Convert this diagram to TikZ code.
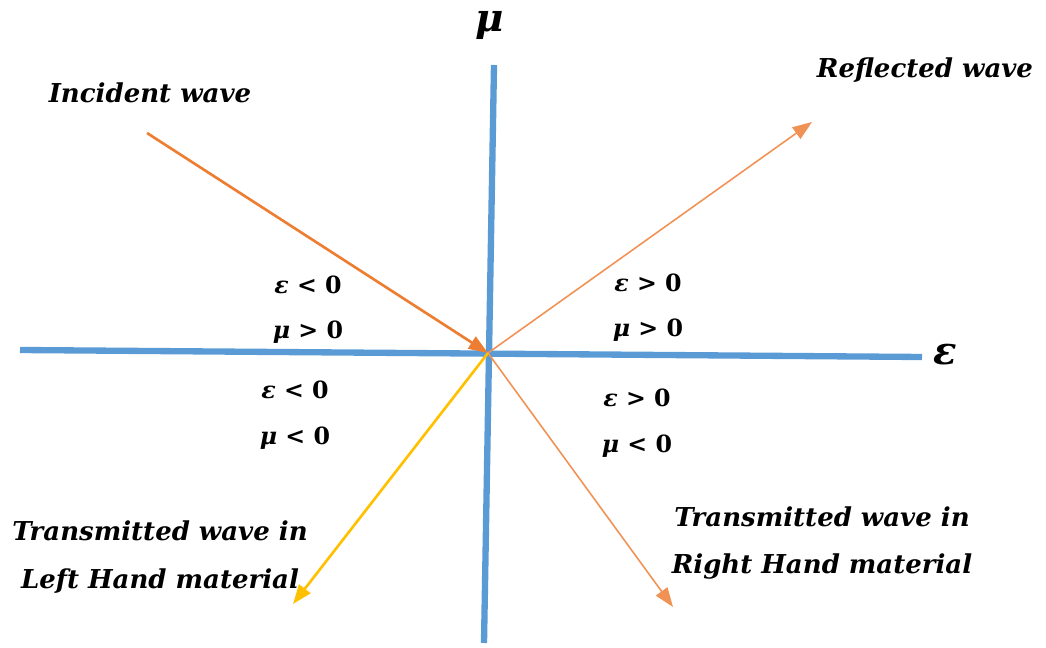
\documentclass[tikz,border=0pt]{standalone}
\usepackage{fontspec}
\setmainfont{DejaVu Serif}
\usepackage{tikz}
\usetikzlibrary{arrows.meta}
\definecolor{axisblue}{HTML}{5B9BD5}
\definecolor{waveorange}{HTML}{ED7D31}
\definecolor{wavelight}{HTML}{F19255}
\definecolor{wavegold}{HTML}{FFC000}

\begin{document}
\begin{tikzpicture}[
  x=0.02cm, y=-0.02cm,
  >={Triangle[length=11pt,width=8pt]},
  axis/.style={line width=3.6pt, axisblue},
  wave/.style={->, line width=1.5pt, waveorange},
  thinwave/.style={->, line width=0.9pt, wavelight},
  lbl/.style={font=\fontsize{14.8}{27}\selectfont\bfseries\itshape},
  sgn/.style={font=\fontsize{13.5}{15}\selectfont\bfseries},
  axlbl/.style={font=\fontsize{22}{24}\selectfont\bfseries\itshape}
]
\useasboundingbox (0,0) rectangle (1046,648);

%========== axes ==========
\coordinate (O) at (488,353);
\coordinate (eL) at (20,350);
\coordinate (eR) at (922,357);
\coordinate (mT) at (494,65);
\coordinate (mB) at (484,643);
\draw[axis] (eL) -- (eR);
\draw[axis] (mT) -- (mB);
\node[axlbl] (eps) at (945,355) {ε};
\node[axlbl] (mu) at (490,25) {μ};

%========== waves ==========
\coordinate (inc) at (147,133);
\coordinate (refl) at (812,122);
\coordinate (trR) at (673,607);
\coordinate (trL) at (293,604);
\draw[wave] (inc) -- (O);
\draw[thinwave] (O) -- (refl);
\draw[thinwave] (O) -- (trR);
\draw[wave, wavegold] (O) -- (trL);

\node[lbl] (incl) at (150,93) {Incident wave};
\node[lbl] (refll) at (925,70) {Reflected wave};
\node[lbl, align=center] (trLl) at (160,557) {Transmitted wave in\\Left Hand material};
\node[lbl, align=center] (trRl) at (822,543) {Transmitted wave in\\Right Hand material};

%========== quadrants ==========
\node[sgn] (q2e) at (308,285) {{\itshape ε} < 0};
\node[sgn] (q2m) at (308,332) {{\itshape μ} > 0};
\node[sgn] (q1e) at (648,283) {{\itshape ε} > 0};
\node[sgn] (q1m) at (648,330) {{\itshape μ} > 0};
\node[sgn] (q3e) at (295,390) {{\itshape ε} < 0};
\node[sgn] (q3m) at (295,438) {{\itshape μ} < 0};
\node[sgn] (q4e) at (637,398) {{\itshape ε} > 0};
\node[sgn] (q4m) at (637,446) {{\itshape μ} < 0};
\end{tikzpicture}
\end{document}
